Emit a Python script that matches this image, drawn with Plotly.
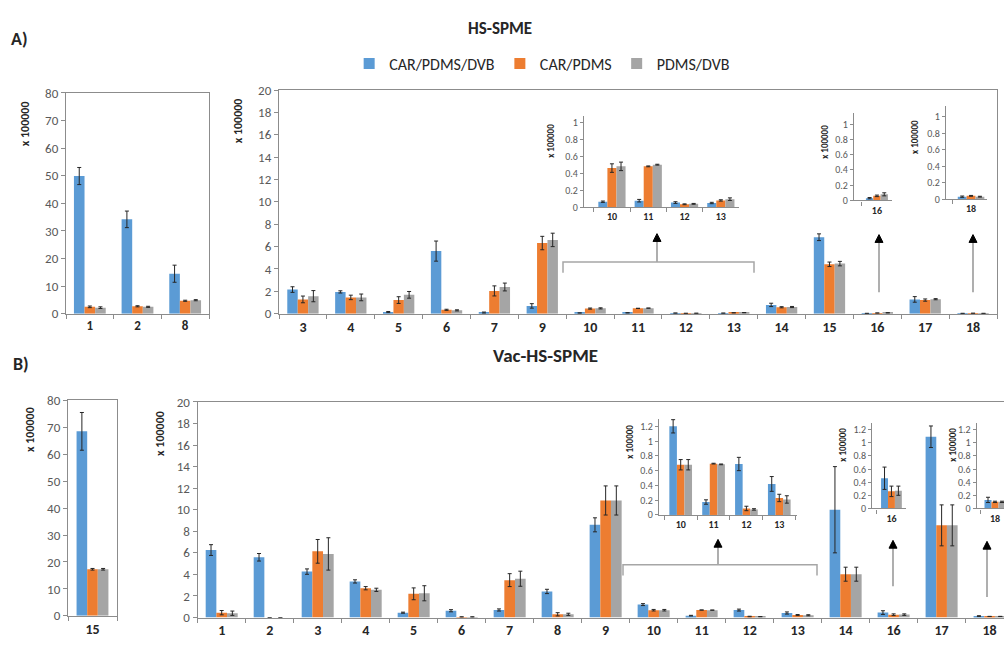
import plotly.graph_objects as go

W, H = 1004, 648
SERIES = ["CAR/PDMS/DVB", "CAR/PDMS", "PDMS/DVB"]
COLORS = ["#5B9BD5", "#ED7D31", "#A5A5A5"]
FONT = "Carlito, Calibri, Lato, sans-serif"

# ---------------- Panel A: HS-SPME ----------------
a_left_cats = ["1", "2", "8"]
a_left_vals = [[49.9, 34.2, 14.5],
               [2.5, 2.7, 4.7],
               [2.2, 2.5, 4.9]]
a_left_errs = [[3.1, 3.0, 3.1],
               [0.3, 0.2, 0.2],
               [0.3, 0.2, 0.2]]

a_main_cats = ["3", "4", "5", "6", "7", "9", "10", "11", "12", "13", "14", "15", "16", "17", "18"]
a_main_vals = [[2.16, 1.95, 0.15, 5.6, 0.1, 0.7, 0.065, 0.077, 0.055, 0.05, 0.79, 6.84, 0.03, 1.28, 0.03],
               [1.28, 1.46, 1.22, 0.35, 2.04, 6.32, 0.46, 0.48, 0.035, 0.08, 0.58, 4.42, 0.06, 1.22, 0.04],
               [1.57, 1.46, 1.69, 0.3, 2.39, 6.6, 0.48, 0.50, 0.04, 0.095, 0.6, 4.48, 0.08, 1.3, 0.03]]
a_main_errs = [[0.25, 0.1, 0.05, 0.9, 0.05, 0.2, 0.008, 0.015, 0.01, 0.008, 0.15, 0.3, 0.008, 0.25, 0.008],
               [0.3, 0.2, 0.3, 0.05, 0.45, 0.6, 0.05, 0.005, 0.005, 0.008, 0.05, 0.2, 0.01, 0.1, 0.005],
               [0.5, 0.3, 0.3, 0.05, 0.35, 0.6, 0.05, 0.005, 0.005, 0.015, 0.05, 0.2, 0.02, 0.05, 0.005]]

# ---------------- Panel B: Vac-HS-SPME ----------------
b_left_cats = ["15"]
b_left_vals = [[68.5], [17.3], [17.3]]
b_left_errs = [[7.0], [0.3], [0.3]]

b_main_cats = ["1", "2", "3", "4", "5", "6", "7", "8", "9", "10", "11", "12", "13", "14", "16", "17", "18"]
b_main_vals = [[6.26, 5.59, 4.26, 3.35, 0.45, 0.63, 0.7, 2.42, 8.6, 1.2, 0.175, 0.69, 0.42, 10.0, 0.46, 16.77, 0.13],
               [0.45, 0.0, 6.14, 2.72, 2.2, 0.05, 3.47, 0.3, 10.86, 0.68, 0.695, 0.088, 0.23, 4.02, 0.26, 8.55, 0.10],
               [0.4, 0.0, 5.9, 2.57, 2.25, 0.05, 3.6, 0.3, 10.86, 0.68, 0.685, 0.075, 0.21, 4.02, 0.27, 8.55, 0.10]]
b_main_errs = [[0.5, 0.35, 0.25, 0.15, 0.05, 0.1, 0.1, 0.2, 0.65, 0.09, 0.03, 0.09, 0.1, 4.0, 0.17, 1.0, 0.04],
               [0.2, 0.0, 1.1, 0.15, 0.55, 0.02, 0.6, 0.15, 1.35, 0.07, 0.005, 0.03, 0.05, 0.65, 0.08, 1.9, 0.01],
               [0.2, 0.0, 1.5, 0.15, 0.7, 0.02, 0.7, 0.1, 1.35, 0.07, 0.005, 0.01, 0.05, 0.65, 0.07, 1.9, 0.01]]

inset1_cats = ["10", "11", "12", "13"]


def subset(cats, vals, errs, keep):
    idx = [cats.index(c) for c in keep]
    return ([cats[i] for i in idx],
            [[s[i] for i in idx] for s in vals],
            [[s[i] for i in idx] for s in errs])


def px_x(p):
    return p / W


def px_y(p):
    return 1 - p / H


fig = go.Figure()
layout = {}


def add_panel(n, cats, vals, errs, xpx, ypx, yrange, dtick, xrange, group,
              top=False, right=False, tick_size=13, xtick_size=13, yticklen=4):
    xa = "x" if n == 1 else f"x{n}"
    ya = "y" if n == 1 else f"y{n}"
    w = group / 3.0
    for i in range(3):
        fig.add_trace(go.Bar(
            x=cats, y=vals[i], name=SERIES[i], xaxis=xa, yaxis=ya,
            marker=dict(color=COLORS[i], line=dict(width=0)),
            width=w, offset=-group / 2 + i * w,
            error_y=dict(type="data", array=errs[i], visible=True,
                         color="#262626", thickness=1, width=2),
            showlegend=False,
        ))
    layout["xaxis" if n == 1 else f"xaxis{n}"] = dict(
        domain=[px_x(xpx[0]), px_x(xpx[1])], anchor=ya, type="category",
        range=xrange, showline=True, linecolor="#8C8C8C", linewidth=1.3,
        mirror=top, ticks="outside", tickson="boundaries", ticklen=4,
        tickcolor="#8C8C8C", showgrid=False, zeroline=False,
        tickfont=dict(family=FONT, size=xtick_size, color="#262626", weight="bold"),
        fixedrange=True,
    )
    layout["yaxis" if n == 1 else f"yaxis{n}"] = dict(
        domain=[px_y(ypx[0]), px_y(ypx[1])], anchor=xa, range=yrange,
        dtick=dtick, tick0=0, showline=True, linecolor="#8C8C8C", linewidth=1.3,
        mirror=right, ticks="outside", ticklen=yticklen, tickcolor="#8C8C8C",
        showgrid=False, zeroline=False,
        tickfont=dict(family=FONT, size=tick_size, color="#595959"),
        fixedrange=True,
    )


# Panel A
add_panel(1, a_left_cats, a_left_vals, a_left_errs, (66, 209), (314, 88),
          [0, 80], 10, [-0.5, 2.5], 0.667, top=True, right=True)
add_panel(2, a_main_cats, a_main_vals, a_main_errs, (279, 997), (314, 85),
          [0, 20], 2, [-0.5, 14.5], 0.654, top=True, right=True, xtick_size=14)
c, v, e = subset(a_main_cats, a_main_vals, a_main_errs, inset1_cats)
add_panel(3, c, v, e, (584, 739), (205, 111.7), [0, 1.07], 0.2, [-0.77, 3.5], 0.75,
          tick_size=10, xtick_size=10, yticklen=3)
c, v, e = subset(a_main_cats, a_main_vals, a_main_errs, ["16"])
add_panel(4, c, v, e, (854, 892), (198, 108), [0, 1.154], 0.2, [-0.73, 0.48], 0.7,
          tick_size=10, xtick_size=10, yticklen=3)
c, v, e = subset(a_main_cats, a_main_vals, a_main_errs, ["18"])
add_panel(5, c, v, e, (946, 987), (196.7, 101.7), [0, 1.126], 0.2, [-0.66, 0.42], 0.7,
          tick_size=10, xtick_size=10, yticklen=3)

# Panel B
add_panel(6, b_left_cats, b_left_vals, b_left_errs, (68, 117), (623.3, 402.7),
          [0, 80], 10, [-0.5, 0.5], 0.65, top=True, right=True, xtick_size=14)
add_panel(7, b_main_cats, b_main_vals, b_main_errs, (197.7, 1004), (625, 404.3),
          [0, 20], 2, [-0.5, 16.3], 0.667, top=True, right=False, xtick_size=14)
c, v, e = subset(b_main_cats, b_main_vals, b_main_errs, inset1_cats)
add_panel(8, c, v, e, (659, 796.7), (520, 421.7), [0, 1.3], 0.2, [-0.66, 3.53], 0.69,
          tick_size=10, xtick_size=10, yticklen=3)
c, v, e = subset(b_main_cats, b_main_vals, b_main_errs, ["16"])
add_panel(9, c, v, e, (872.3, 906), (513.3, 426), [0, 1.3], 0.2, [-0.645, 0.49], 0.7,
          tick_size=10, xtick_size=10, yticklen=3)
c, v, e = subset(b_main_cats, b_main_vals, b_main_errs, ["18"])
add_panel(10, c, v, e, (976.7, 1004), (513.3, 426), [0, 1.3], 0.2, [-0.61, 0.3], 0.7,
          tick_size=10, xtick_size=10, yticklen=3)

# Legend entries (square swatches)
for i in range(3):
    fig.add_trace(go.Scatter(
        x=[None], y=[None], name=SERIES[i], mode="markers", xaxis="x2", yaxis="y2",
        marker=dict(symbol="square", size=11, color=COLORS[i]), showlegend=True,
    ))

# Annotations
ann = []


def text(x, y, s, size, bold=True, angle=0, color="#262626"):
    ann.append(dict(x=px_x(x), y=px_y(y), xref="paper", yref="paper", text=s,
                    showarrow=False, textangle=angle, xanchor="center", yanchor="middle",
                    font=dict(family=FONT, size=size, color=color,
                              weight="bold" if bold else "normal")))


text(500, 22, "HS-SPME", 17)
text(19, 33, "A)", 18)
text(545, 357, "Vac-HS-SPME", 19)
text(21, 365, "B)", 18)
for (x, y) in [(25, 120), (238, 117), (30, 433), (160, 437)]:
    text(x, y, "x 100000", 12, angle=-90)
for (x, y) in [(551, 137), (825, 138), (915, 133), (630, 445), (843, 448), (953, 448)]:
    text(x, y, "x 100000", 9, angle=-90)

# Brackets and arrows
shapes = []
GREY = "#A6A6A6"


def path(pts, close=False, fill=None, color=GREY, width=1.5):
    d = "M " + " L ".join(f"{px_x(x):.5f},{px_y(y):.5f}" for x, y in pts)
    if close:
        d += " Z"
    s = dict(type="path", path=d, xref="paper", yref="paper",
             line=dict(color=color, width=width))
    if fill:
        s["fillcolor"] = fill
    shapes.append(s)


def arrow(x, y0, y1):
    path([(x, y0), (x, y1 + 5)], width=1.8)
    path([(x, y1), (x - 4, y1 + 8), (x + 4, y1 + 8)], close=True,
         fill="#000000", color="#000000", width=1)


path([(563, 272), (563, 261), (754, 261), (754, 272)])
arrow(657, 261, 232)
arrow(879, 292, 233)
arrow(973, 292, 233)
path([(623, 582), (623, 571), (817, 571), (817, 582)])
arrow(718, 571, 545)
arrow(893, 593, 546)
arrow(987, 604, 547)

fig.update_layout(
    width=W, height=H, margin=dict(l=0, r=0, t=0, b=0),
    paper_bgcolor="white", plot_bgcolor="rgba(0,0,0,0)",
    barmode="overlay",
    font=dict(family=FONT, color="#262626"),
    legend=dict(orientation="h", x=0.54, y=px_y(58), xanchor="center", yanchor="middle",
                font=dict(family=FONT, size=16, color="#262626"),
                bgcolor="rgba(0,0,0,0)", itemwidth=30, traceorder="normal"),
    annotations=ann, shapes=shapes,
    **layout,
)

fig.write_html("out.html")
